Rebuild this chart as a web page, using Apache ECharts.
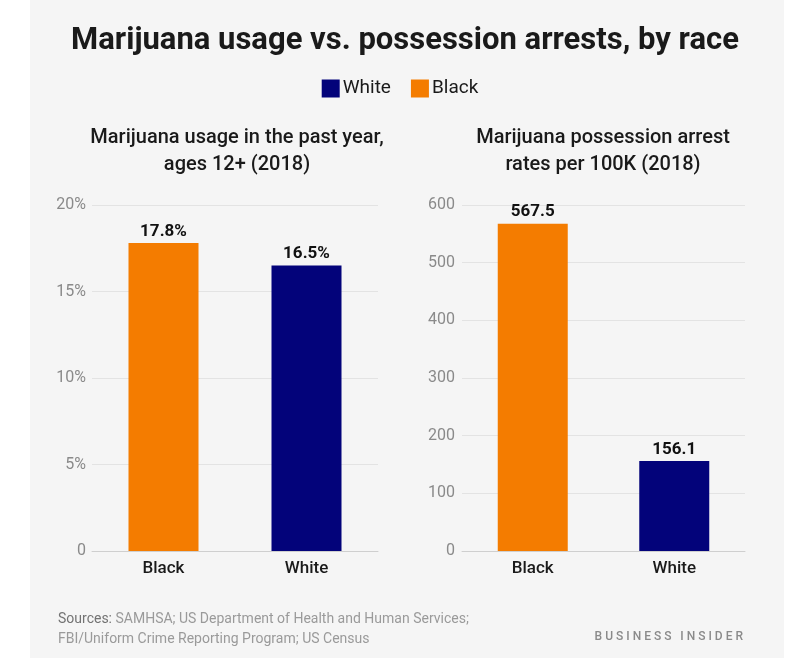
<!DOCTYPE html>
<html>
<head>
<meta charset="utf-8">
<script src="https://cdn.jsdelivr.net/npm/echarts@6/dist/echarts.min.js"></script>
<style>html,body{margin:0;padding:0;background:#fff}#c{width:800px;height:665px}</style>
</head>
<body>
<div id="c"></div>
<script>
const categories = ['Black', 'White'];
const usagePct = [17.8, 16.5];
const arrestRates = [567.5, 156.1];
const usageTicks = [0, 5, 10, 15, 20];
const arrestTicks = [0, 100, 200, 300, 400, 500, 600];
const seriesNames = ['White', 'Black'];
const colors = { White: '#03037a', Black: '#f47c00' };

const FONT = 'Roboto, "Liberation Sans", sans-serif';
const chart = echarts.init(document.getElementById('c'));

function seriesFor(name, values, gridIdx, fmt) {
  const idx = categories.indexOf(name);
  return {
    name: name,
    type: 'bar',
    xAxisIndex: gridIdx,
    yAxisIndex: gridIdx,
    stack: 'g' + gridIdx,
    barWidth: 70,
    itemStyle: { color: colors[name] },
    data: categories.map((c, i) => (i === idx ? values[i] : '-')),
    label: {
      show: true, position: 'top', distance: 3,
      color: '#111', fontWeight: 'bold', fontSize: 17, fontFamily: FONT,
      formatter: p => fmt(p.value)
    }
  };
}

const catAxis = (gi) => ({
  type: 'category', gridIndex: gi, data: categories,
  axisLine: { show: true, lineStyle: { color: '#cfcfcf' } },
  axisTick: { show: false },
  axisLabel: { color: '#1a1a1a', fontSize: 17, fontWeight: 500, fontFamily: FONT, margin: 9 }
});

chart.setOption({
  backgroundColor: '#ffffff',
  graphic: [{
    type: 'rect', z: -10, silent: true,
    shape: { x: 30, y: 0, width: 754, height: 658 },
    style: { fill: '#f5f5f5' }
  }],
  title: [
    { text: 'Marijuana usage vs. possession arrests, by race', left: 400, top: 21, textAlign: 'center',
      textStyle: { fontSize: 31, fontWeight: 'bold', color: '#1a1a1a', fontFamily: FONT } },
    { text: 'Marijuana usage in the past year,\nages 12+ (2018)', left: 232, top: 119, textAlign: 'center',
      textStyle: { fontSize: 20, fontWeight: 500, color: '#1a1a1a', lineHeight: 27, fontFamily: FONT } },
    { text: 'Marijuana possession arrest\nrates per 100K (2018)', left: 598, top: 119, textAlign: 'center',
      textStyle: { fontSize: 20, fontWeight: 500, color: '#1a1a1a', lineHeight: 27, fontFamily: FONT } },
    { text: '{a|Sources:} SAMHSA; US Department of Health and Human Services;\nFBI/Uniform Crime Reporting Program; US Census',
      left: 53, top: 604,
      textStyle: { fontSize: 14, fontWeight: 'normal', color: '#9a9a9a', lineHeight: 20, fontFamily: FONT,
        rich: { a: { fontSize: 14, fontWeight: 'normal', color: '#737373', fontFamily: FONT } } } },
    { text: 'B U S I N E S S   I N S I D E R', right: 52, top: 626,
      textStyle: { fontSize: 12, color: '#8a8a8a', fontWeight: 500, fontFamily: FONT } }
  ],
  legend: {
    data: seriesNames, top: 74, left: 'center', itemWidth: 18, itemHeight: 18, itemGap: 20,
    icon: 'rect',
    textStyle: { fontSize: 19, color: '#1a1a1a', fontFamily: FONT, padding: [0, 0, 0, -2] }
  },
  grid: [
    { left: 92, right: 422, top: 205, bottom: 114 },
    { left: 462, right: 55, top: 205, bottom: 114 }
  ],
  xAxis: [catAxis(0), catAxis(1)],
  yAxis: [
    { type: 'value', gridIndex: 0, min: usageTicks[0], max: usageTicks[usageTicks.length - 1], interval: 5,
      axisLine: { show: false }, axisTick: { show: false },
      splitLine: { lineStyle: { color: '#e3e3e3' } },
      axisLabel: { color: '#8a8a8a', fontSize: 16, fontFamily: FONT, margin: 6,
        formatter: v => (v === 0 ? '0' : v + '%') } },
    { type: 'value', gridIndex: 1, min: arrestTicks[0], max: arrestTicks[arrestTicks.length - 1], interval: 100,
      axisLine: { show: false }, axisTick: { show: false },
      splitLine: { lineStyle: { color: '#e3e3e3' } },
      axisLabel: { color: '#8a8a8a', fontSize: 16, fontFamily: FONT, margin: 7 } }
  ],
  series: [
    seriesFor('White', usagePct, 0, v => v.toFixed(1) + '%'),
    seriesFor('Black', usagePct, 0, v => v.toFixed(1) + '%'),
    seriesFor('White', arrestRates, 1, v => v.toFixed(1)),
    seriesFor('Black', arrestRates, 1, v => v.toFixed(1))
  ]
});
</script>
</body>
</html>
